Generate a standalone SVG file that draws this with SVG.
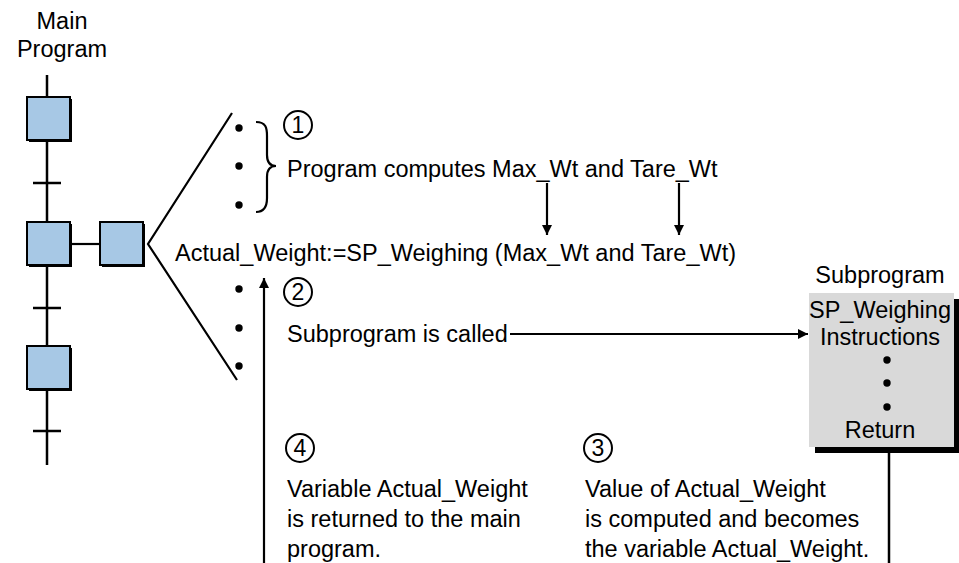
<svg xmlns="http://www.w3.org/2000/svg" width="959" height="563" viewBox="0 0 959 563">
<style>
text{font-family:"Liberation Sans",Arial,sans-serif;font-size:23.5px;fill:#000}
.c{text-anchor:middle}
.ln{stroke:#000;stroke-width:2.5;fill:none}
.thin{stroke:#000;stroke-width:2.2;fill:none}
.step{fill:#a7c8e5;stroke:#000;stroke-width:2}
.sh{fill:#000}
.num{font-size:23px;text-anchor:middle}
.circ{fill:none;stroke:#000;stroke-width:2}
</style>
<defs>
<marker id="ah" viewBox="0 0 10 10" refX="10" refY="5" markerWidth="11" markerHeight="10" markerUnits="userSpaceOnUse" orient="auto">
<path d="M0,0 L10,5 L0,10 z" fill="#000"/>
</marker>
</defs>
<g id="main-title">
<text class="c" x="62" y="29">Main</text>
<text class="c" x="62" y="57">Program</text>
</g>
<g id="connectors">
<line class="ln" x1="47" y1="75" x2="47" y2="465"/>
<line class="ln" x1="33" y1="183" x2="61" y2="183"/>
<line class="ln" x1="33" y1="308" x2="61" y2="308"/>
<line class="ln" x1="33" y1="431" x2="61" y2="431"/>
<line class="thin" x1="70" y1="244" x2="100" y2="244"/>
<polyline class="thin" points="232,113 148,244 237,380"/>
<path class="thin" d="M256,122 C266,122 267,128 267,136 L267,155 C267,162 270,166 276,166 C270,166 267,170 267,177 L267,198 C267,206 264,212 256,212"/>
<line class="thin" x1="547" y1="183" x2="547" y2="235" marker-end="url(#ah)"/>
<line class="thin" x1="679" y1="183" x2="679" y2="235" marker-end="url(#ah)"/>
<line class="thin" x1="264" y1="563" x2="264" y2="278" marker-end="url(#ah)"/>
<line class="thin" x1="510" y1="334" x2="808" y2="334" marker-end="url(#ah)"/>
<line class="ln" x1="889" y1="452" x2="889" y2="563"/>
</g>
<g id="step1"><rect class="sh" x="29" y="99" width="43" height="43"/><rect class="step" x="27" y="97" width="43" height="43"/></g>
<g id="step2"><rect class="sh" x="29" y="224" width="43" height="43"/><rect class="step" x="27" y="222" width="43" height="43"/></g>
<g id="step3"><rect class="sh" x="102" y="224" width="43" height="43"/><rect class="step" x="100" y="222" width="43" height="43"/></g>
<g id="step4"><rect class="sh" x="29" y="348" width="43" height="43"/><rect class="step" x="27" y="346" width="43" height="43"/></g>
<g id="dots">
<circle cx="239" cy="128" r="3.7"/><circle cx="239" cy="166" r="3.7"/><circle cx="239" cy="205" r="3.7"/>
<circle cx="239" cy="289" r="3.7"/><circle cx="239" cy="328" r="3.7"/><circle cx="239" cy="366" r="3.7"/>
</g>
<g id="note1">
<circle class="circ" cx="298" cy="125" r="14"/><text class="num" x="298" y="133">1</text>
<text x="287" y="177">Program computes Max_Wt and Tare_Wt</text>
</g>
<g id="call">
<text x="175" y="261">Actual_Weight:=SP_Weighing (Max_Wt and Tare_Wt)</text>
</g>
<g id="note2">
<circle class="circ" cx="298" cy="292" r="14"/><text class="num" x="298" y="300">2</text>
<text x="287" y="342">Subprogram is called</text>
</g>
<g id="subprogram">
<text class="c" x="880" y="283">Subprogram</text>
<rect x="815" y="299" width="144" height="154" fill="#000"/>
<rect x="809" y="293" width="145" height="154" fill="#d9d9d9"/>
<text class="c" x="880" y="318">SP_Weighing</text>
<text class="c" x="880" y="345">Instructions</text>
<circle cx="887" cy="360" r="3.7"/><circle cx="887" cy="383" r="3.7"/><circle cx="887" cy="407" r="3.7"/>
<text class="c" x="880" y="438">Return</text>
</g>
<g id="note4">
<circle class="circ" cx="300" cy="448" r="14"/><text class="num" x="300" y="456">4</text>
<text x="287" y="497">Variable Actual_Weight</text>
<text x="287" y="527">is returned to the main</text>
<text x="287" y="557">program.</text>
</g>
<g id="note3">
<circle class="circ" cx="598" cy="448" r="14"/><text class="num" x="598" y="456">3</text>
<text x="585" y="497">Value of Actual_Weight</text>
<text x="585" y="527">is computed and becomes</text>
<text x="585" y="557">the variable Actual_Weight.</text>
</g>
</svg>
